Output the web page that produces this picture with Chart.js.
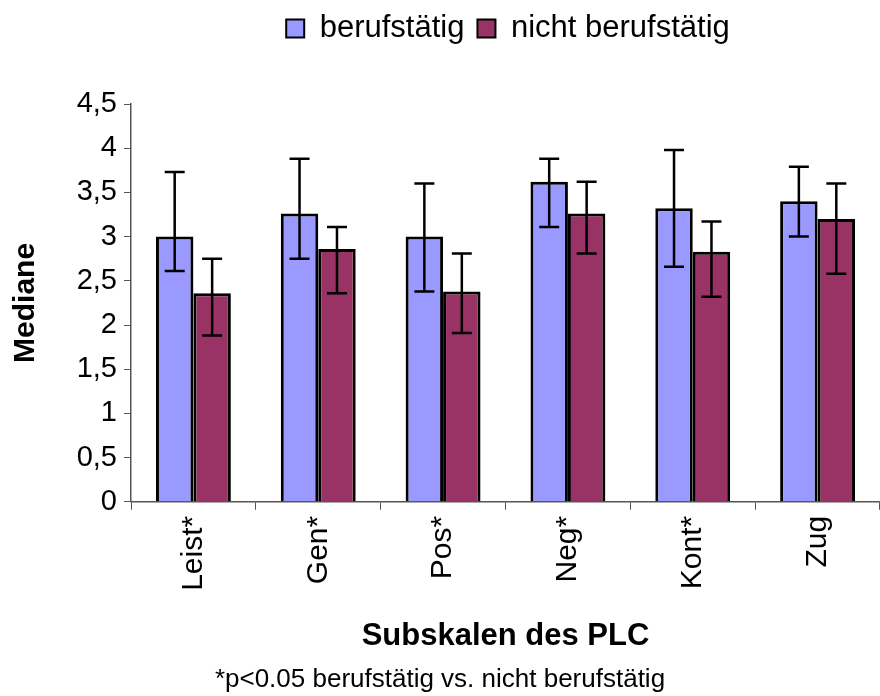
<!DOCTYPE html>
<html>
<head>
<meta charset="utf-8">
<script src="https://cdn.jsdelivr.net/npm/chart.js@4"></script>
<style>
  html, body { margin: 0; padding: 0; background: #fff; }
  #wrap { width: 880px; height: 696px; }
</style>
</head>
<body>
<div id="wrap"><canvas id="chart" width="880" height="696"></canvas></div>
<script>
const categories = ['Leist*', 'Gen*', 'Pos*', 'Neg*', 'Kont*', 'Zug'];
const berufstaetig = [3.0, 3.26, 3.0, 3.62, 3.32, 3.4];
const nichtBerufstaetig = [2.36, 2.86, 2.38, 3.26, 2.83, 3.2];
// error bar ends (upper / lower)
const berufHigh = [3.73, 3.88, 3.6, 3.88, 3.98, 3.79];
const berufLow = [2.61, 2.75, 2.38, 3.11, 2.66, 3.0];
const nichtHigh = [2.75, 3.11, 2.81, 3.62, 3.17, 3.6];
const nichtLow = [1.88, 2.36, 1.91, 2.81, 2.32, 2.58];
const yTicks = [0, 0.5, 1, 1.5, 2, 2.5, 3, 3.5, 4, 4.5];

const FONT = "'Liberation Sans', Arial, sans-serif";

// draws the whiskers on top of each bar
const errorBars = {
  id: 'errorBars',
  afterDatasetsDraw(chart) {
    const ctx = chart.ctx;
    const y = chart.scales.y;
    const ranges = [[berufHigh, berufLow], [nichtHigh, nichtLow]];
    ctx.save();
    ctx.strokeStyle = '#000';
    ctx.lineWidth = 2.5;
    chart.data.datasets.forEach((ds, i) => {
      const meta = chart.getDatasetMeta(i);
      meta.data.forEach((bar, j) => {
        const top = y.getPixelForValue(ranges[i][0][j]);
        const bot = y.getPixelForValue(ranges[i][1][j]);
        ctx.beginPath();
        ctx.moveTo(bar.x, top); ctx.lineTo(bar.x, bot);
        ctx.moveTo(bar.x - 10, top); ctx.lineTo(bar.x + 10, top);
        ctx.moveTo(bar.x - 10, bot); ctx.lineTo(bar.x + 10, bot);
        ctx.stroke();
      });
    });
    ctx.restore();
  }
};

// give the legend more room below it and move it a bit to the right
const legendSpace = {
  id: 'legendSpace',
  beforeInit(chart) {
    const fit = chart.legend.fit;
    chart.legend.fit = function () {
      fit.bind(chart.legend)();
      this.height = 104;
    };
  },
  afterLayout(chart) {
    chart.legend.left = 136;
  }
};

new Chart(document.getElementById('chart'), {
  type: 'bar',
  data: {
    labels: categories,
    datasets: [
      { label: 'berufstätig', data: berufstaetig, backgroundColor: '#9999ff', borderColor: '#000', borderWidth: 3 },
      { label: 'nicht berufstätig', data: nichtBerufstaetig, backgroundColor: '#993366', borderColor: '#000', borderWidth: 3 }
    ]
  },
  options: {
    responsive: false,
    animation: false,
    categoryPercentage: 0.6,
    barPercentage: 1.0,
    layout: { padding: 0 },
    plugins: {
      legend: {
        position: 'top',
        labels: {
          font: { family: FONT, size: 31 },
          color: '#000',
          boxWidth: 18,
          boxHeight: 18,
          padding: 13,
          generateLabels: chart => Chart.defaults.plugins.legend.labels.generateLabels(chart)
            .map(l => Object.assign(l, { lineWidth: 2 }))
        }
      },
      subtitle: {
        display: true,
        position: 'bottom',
        text: '*p<0.05 berufstätig vs. nicht berufstätig',
        color: '#000',
        font: { family: FONT, size: 26, weight: 'normal' },
        padding: { top: 0, bottom: 1 }
      },
      tooltip: { enabled: false }
    },
    scales: {
      x: {
        grid: { drawOnChartArea: false, tickLength: 8, color: '#555', offset: true },
        border: { color: '#555', width: 1.5 },
        ticks: {
          color: '#000',
          font: { family: FONT, size: 30 },
          minRotation: 90,
          maxRotation: 90,
          padding: 6
        },
        title: {
          display: true,
          text: 'Subskalen des PLC',
          color: '#000',
          font: { family: FONT, size: 31, weight: 'bold' },
          padding: { top: 0, bottom: 9 }
        },
        afterFit(scale) { scale.height = 162; }
      },
      y: {
        min: 0,
        max: 4.5,
        grid: { drawOnChartArea: false, tickLength: 7, color: '#555' },
        border: { color: '#555', width: 1.5 },
        afterBuildTicks(scale) { scale.ticks = yTicks.map(v => ({ value: v })); },
        ticks: {
          color: '#000',
          font: { family: FONT, size: 29 },
          padding: 7,
          callback: v => String(v).replace('.', ',')
        },
        title: {
          display: true,
          text: 'Mediane',
          color: '#000',
          font: { family: FONT, size: 30, weight: 'bold' },
          padding: { top: 8, bottom: 0 }
        },
        afterFit(scale) { scale.width = 131; }
      }
    }
  },
  plugins: [errorBars, legendSpace]
});
</script>
</body>
</html>
